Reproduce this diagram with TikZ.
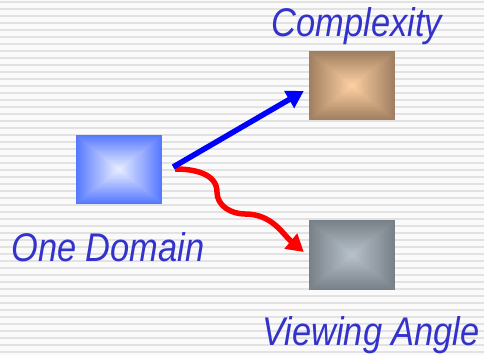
\documentclass[tikz,border=0pt]{standalone}
\usepackage{fontspec}
\newfontfamily\labelfont{Liberation Sans}[FakeStretch=0.86]
\usetikzlibrary{calc,arrows.meta}

\definecolor{stripebg}{RGB}{250,250,250}
\definecolor{stripegray}{RGB}{226,226,226}
\definecolor{labelblue}{RGB}{51,51,204}
\definecolor{domainedge}{RGB}{85,120,255}
\definecolor{domainmid}{RGB}{228,234,255}
\definecolor{cplxedge}{RGB}{160,126,96}
\definecolor{cplxmid}{RGB}{250,206,160}
\definecolor{viewedge}{RGB}{120,128,136}
\definecolor{viewmid}{RGB}{182,192,200}

\begin{document}
\begin{tikzpicture}[x=1pt,y=-1pt,
    pyr/.style 2 args={
      fill=#1,
      minimum width=86pt,
      minimum height=69pt,
      inner sep=0pt,
      path picture={
        \foreach \k in {1,...,40}{
          \pgfmathsetmacro\t{\k*2.5}
          \fill[#2!\t!#1]
            ($(path picture bounding box.south west)!\k/84!(path picture bounding box.north east)$)
            rectangle
            ($(path picture bounding box.north east)!\k/84!(path picture bounding box.south west)$);
        }}},
    lbl/.style={
      text=labelblue,
      font=\labelfont\itshape\fontsize{40}{44}\selectfont,
      inner sep=0pt,
      anchor=base},
    link/.style={
      line width=5.5pt,
      -{Triangle[length=17pt,width=19pt]}}]
    \useasboundingbox (0,0) rectangle (484,355);
    \fill[stripebg] (0,0) rectangle (484,355);
    \foreach \y in {1,8,...,351}
      \fill[stripegray] (0,\y) rectangle (484,\y+2);

    \node[pyr={domainedge}{domainmid}] (one)  at (119,169.5) {};
    \node[pyr={cplxedge}{cplxmid}]     (cplx) at (352,86)    {};
    \node[pyr={viewedge}{viewmid}]     (view) at (352,255)   {};

    \draw [link, red]  ([xshift=13pt,yshift=0.5pt]one.east)
      to[out=0,in=90] (217,192)
      to[out=-90,in=180] (245,214)
      to[out=0,in=140] ([xshift=-5pt,yshift=3pt]view.west);
    \draw [link, blue] ([xshift=11pt,yshift=2.5pt]one.east) -- ([xshift=-5pt,yshift=-5pt]cplx.west);

    \node[lbl] (cplxlabel) at (357,37)  {Complexity};
    \node[lbl] (onelabel)  at (108,261) {One Domain};
    \node[lbl] (viewlabel) at (371,345) {Viewing Angle};
  \end{tikzpicture}
\end{document}
